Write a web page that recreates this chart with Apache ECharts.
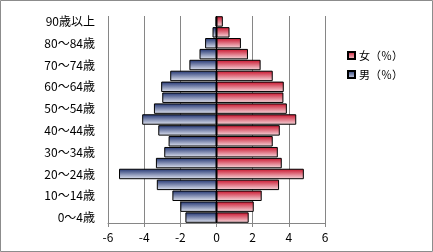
<!DOCTYPE html>
<html><head><meta charset="utf-8">
<script src="https://cdn.jsdelivr.net/npm/echarts@6/dist/echarts.min.js"></script>
<style>html,body{margin:0;padding:0;background:#fff}#c{width:433px;height:252px}</style>
</head><body><div id="c"></div>
<script>
var categories = ['0～4歳','5～9歳','10～14歳','15～19歳','20～24歳','25～29歳','30～34歳','35～39歳','40～44歳','45～49歳','50～54歳','55～59歳','60～64歳','65～69歳','70～74歳','75～79歳','80～84歳','85～89歳','90歳以上'];
var maleValues = [1.72, 2.0, 2.44, 3.3, 5.39, 3.35, 2.89, 2.65, 3.22, 4.11, 3.46, 3.0, 3.06, 2.56, 1.5, 0.94, 0.63, 0.22, 0.05];
var femaleValues = [1.78, 2.06, 2.5, 3.46, 4.83, 3.61, 3.39, 3.11, 3.5, 4.41, 3.89, 3.7, 3.72, 3.11, 2.44, 1.74, 1.35, 0.72, 0.35];
var xTicks = [-6, -4, -2, 0, 2, 4, 6];
var seriesNames = ['女（％）', '男（％）'];

var font = '"Noto Sans CJK JP", sans-serif';
function grad(top, bottom) {
  return new echarts.graphic.LinearGradient(0, 0, 0, 1, [
    {offset: 0, color: top}, {offset: 1, color: bottom}
  ]);
}
var chart = echarts.init(document.getElementById('c'), null, {renderer: 'canvas'});
chart.setOption({
  animation: false,
  backgroundColor: '#fff',
  graphic: [{type: 'rect', shape: {x: 0.5, y: 0.5, width: 432, height: 251}, style: {fill: 'none', stroke: '#8c8c8c', lineWidth: 1}, silent: true}],
  grid: {left: 108, right: 108, top: 16, bottom: 29},
  legend: {
    orient: 'vertical', left: 342, top: 45, itemGap: 8,
    itemWidth: 7, itemHeight: 7, icon: 'rect',
    data: seriesNames,
    textStyle: {fontFamily: font, fontSize: 11, color: '#000', padding: [0, 0, 0, -1]}
  },
  xAxis: {
    type: 'value', min: xTicks[0], max: xTicks[xTicks.length - 1], interval: 2,
    axisLine: {show: true, onZero: false, lineStyle: {color: '#868686'}},
    axisTick: {show: true, length: 4, lineStyle: {color: '#868686'}},
    splitLine: {show: true, lineStyle: {color: '#868686'}},
    axisLabel: {fontFamily: font, fontSize: 12, color: '#000', margin: 8}
  },
  yAxis: {
    type: 'category', data: categories,
    axisLine: {show: false}, axisTick: {show: false},
    axisLabel: {interval: 1, fontFamily: font, fontSize: 12, color: '#000', margin: 13}
  },
  series: [
    {
      name: seriesNames[0], type: 'bar', data: femaleValues,
      barGap: '-100%', barCategoryGap: '4%',
      itemStyle: {color: grad('#c8102a', '#f8dde1'), borderColor: '#000', borderWidth: 1}
    },
    {
      name: seriesNames[1], type: 'bar', data: maleValues.map(function (v) { return -v; }),
      barGap: '-100%', barCategoryGap: '4%',
      itemStyle: {color: grad('#1f3270', '#e4e8f3'), borderColor: '#000', borderWidth: 1},
      markLine: {silent: true, symbol: 'none', label: {show: false},
        lineStyle: {color: '#000', type: 'solid', width: 1}, data: [{xAxis: 0}]}
    }
  ]
});
</script></body></html>
